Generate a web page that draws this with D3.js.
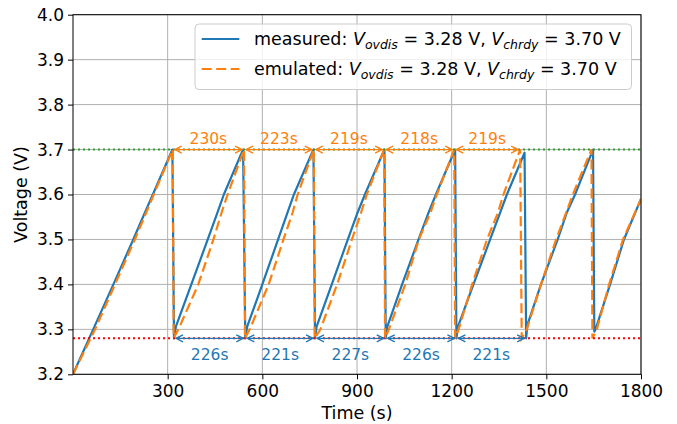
<!DOCTYPE html>
<html lang="en">
<head>
<meta charset="utf-8">
<script src="https://d3js.org/d3.v7.min.js"></script>
<style>
    body { margin: 0; background: #fff; }
    svg { display: block; font-family: "DejaVu Sans", sans-serif; }
    .tick text { font-size: 17px; fill: #000; font-family: "DejaVu Sans", sans-serif; }
    .grid line { stroke: #b0b0b0; stroke-width: 1; }
    text { white-space: pre; }
</style>
</head>
<body>
<svg id="chart" width="677" height="424"></svg>
<script>
// [time (s), voltage (V)]
const measured = [
    [0, 3.20], [64, 3.30], [128, 3.40], [191, 3.50], [228, 3.56], [253, 3.60], [315, 3.70],
    [320, 3.28], [326, 3.306], [375, 3.40], [427, 3.50], [458, 3.56], [478, 3.60], [539, 3.70],
    [546, 3.28], [552, 3.306], [600, 3.40], [650, 3.50], [680, 3.56], [700, 3.60], [762, 3.70],
    [767, 3.28], [772, 3.306], [820, 3.40], [871, 3.50], [902, 3.56], [925, 3.60], [987, 3.70],
    [991, 3.28], [996, 3.306], [1043, 3.40], [1095, 3.50], [1127, 3.56], [1150, 3.60], [1211, 3.70],
    [1215, 3.28], [1220, 3.306], [1269, 3.40], [1322, 3.50], [1354, 3.56], [1375, 3.60], [1431, 3.693],
    [1436, 3.28], [1440, 3.31], [1483, 3.40], [1536, 3.50], [1565, 3.56], [1591, 3.60], [1648, 3.70],
    [1652, 3.295], [1656, 3.30], [1702, 3.40], [1746, 3.50], [1800, 3.59]
];
const emulated = [
    [0, 3.20], [70, 3.30], [133, 3.40], [196, 3.50], [232, 3.56], [256, 3.60], [316, 3.70],
    [319, 3.28], [334, 3.30], [397, 3.40], [445, 3.50], [471, 3.56], [490, 3.60], [542, 3.70],
    [545, 3.28], [560, 3.30], [620, 3.40], [667, 3.50], [696, 3.56], [712, 3.60], [763, 3.70],
    [766, 3.28], [784, 3.30], [837, 3.40], [884, 3.50], [913, 3.56], [931, 3.60], [986, 3.70],
    [989, 3.28], [1001, 3.30], [1053, 3.40], [1096, 3.50], [1133, 3.56], [1153, 3.60], [1208, 3.70],
    [1211, 3.28], [1222, 3.30], [1265, 3.40], [1312, 3.50], [1347, 3.56], [1364, 3.60], [1417, 3.70],
    [1422, 3.28], [1438, 3.30], [1483, 3.40], [1531, 3.50], [1563, 3.56], [1584, 3.60], [1643, 3.70],
    [1646, 3.28], [1660, 3.30], [1699, 3.40], [1743, 3.50], [1800, 3.59]
];

const vOvdis = 3.28;
const vChrdy = 3.70;

// charge intervals (emulated peaks) and discharge intervals (measured troughs)
const chargeMarks = [316, 542, 763, 986, 1208, 1417];
const chargeLabels = ["230s", "223s", "219s", "218s", "219s"];
const dischargeMarks = [320, 546, 767, 991, 1215, 1436];
const dischargeLabels = ["226s", "221s", "227s", "226s", "221s"];

const xTicks = [300, 600, 900, 1200, 1500, 1800];
const yTicks = [3.2, 3.3, 3.4, 3.5, 3.6, 3.7, 3.8, 3.9, 4.0];
const seriesNames = ["measured", "emulated"];

const blue = "#1f77b4", orange = "#ff7f0e";

const svg = d3.select("#chart");
const width = 677, height = 424;
const margin = {top: 14.7, right: 36, bottom: 49.7, left: 73};

const x = d3.scaleLinear().domain([0, 1800]).range([margin.left, width - margin.right]);
const y = d3.scaleLinear().domain([3.2, 4.0]).range([height - margin.bottom, margin.top]);

svg.append("defs").append("clipPath").attr("id", "clip")
    .append("rect")
    .attr("x", margin.left).attr("y", margin.top)
    .attr("width", x.range()[1] - margin.left)
    .attr("height", y.range()[0] - margin.top);

// grid
svg.append("g").attr("class", "grid")
    .selectAll("line").data(xTicks).join("line")
    .attr("x1", d => x(d)).attr("x2", d => x(d))
    .attr("y1", margin.top).attr("y2", y.range()[0]);
svg.append("g").attr("class", "grid")
    .selectAll("line").data(yTicks).join("line")
    .attr("x1", margin.left).attr("x2", x.range()[1])
    .attr("y1", d => y(d)).attr("y2", d => y(d));

const line = d3.line().x(d => x(d[0])).y(d => y(d[1]));
const plot = svg.append("g").attr("clip-path", "url(#clip)");

plot.append("path").datum(measured)
    .attr("d", line).attr("fill", "none")
    .attr("stroke", blue).attr("stroke-width", 2.2)
    .attr("stroke-linejoin", "round");

plot.append("path").datum(emulated)
    .attr("d", line).attr("fill", "none")
    .attr("stroke", orange).attr("stroke-width", 2.2)
    .attr("stroke-dasharray", "10,4.5");

// threshold lines
plot.append("line")
    .attr("x1", x(0)).attr("x2", x(1800)).attr("y1", y(vChrdy)).attr("y2", y(vChrdy))
    .attr("stroke", "#2ca02c").attr("stroke-width", 2).attr("stroke-dasharray", "2,3");
plot.append("line")
    .attr("x1", x(0)).attr("x2", x(1800)).attr("y1", y(vOvdis)).attr("y2", y(vOvdis))
    .attr("stroke", "#ff0000").attr("stroke-width", 2).attr("stroke-dasharray", "2,3");

function addArrow(g, x1, x2, yy, color) {
    const s = 2;
    const a = x1 + s, b = x2 - s;
    g.append("line")
        .attr("x1", a).attr("x2", b).attr("y1", yy).attr("y2", yy)
        .attr("stroke", color).attr("stroke-width", 1.3);
    [[a, 1], [b, -1]].forEach(([px, dir]) => {
        g.append("path")
            .attr("d", `M${px + dir * 7},${yy - 3.5}L${px},${yy}L${px + dir * 7},${yy + 3.5}`)
            .attr("fill", "none").attr("stroke", color).attr("stroke-width", 1.3);
    });
}

const ann = svg.append("g");
chargeLabels.forEach((lbl, i) => {
    const x1 = x(chargeMarks[i]), x2 = x(chargeMarks[i + 1]);
    addArrow(ann, x1, x2, y(vChrdy), orange);
    ann.append("text")
        .attr("x", (x1 + x2) / 2).attr("y", y(vChrdy) - 5.5)
        .attr("text-anchor", "middle")
        .attr("fill", orange).style("font-size", "15.5px")
        .text(lbl);
});
dischargeLabels.forEach((lbl, i) => {
    const x1 = x(dischargeMarks[i]), x2 = x(dischargeMarks[i + 1]);
    addArrow(ann, x1, x2, y(vOvdis), blue);
    ann.append("text")
        .attr("x", (x1 + x2) / 2).attr("y", y(vOvdis) + 22)
        .attr("text-anchor", "middle")
        .attr("fill", blue).style("font-size", "15.5px")
        .text(lbl);
});

// axes
svg.append("g")
    .attr("transform", `translate(0,${y.range()[0]})`)
    .call(d3.axisBottom(x).tickValues(xTicks).tickFormat(d3.format("d")).tickSize(5).tickPadding(6).tickSizeOuter(0))
    .call(g => g.select(".domain").remove());
svg.append("g")
    .attr("transform", `translate(${margin.left},0)`)
    .call(d3.axisLeft(y).tickValues(yTicks).tickFormat(d3.format(".1f")).tickSize(5).tickPadding(4).tickSizeOuter(0))
    .call(g => g.select(".domain").remove());

svg.append("rect")
    .attr("x", margin.left).attr("y", margin.top)
    .attr("width", x.range()[1] - margin.left)
    .attr("height", y.range()[0] - margin.top)
    .attr("fill", "none").attr("stroke", "#000").attr("stroke-width", 1);

svg.append("text")
    .attr("x", (x.range()[0] + x.range()[1]) / 2).attr("y", 419)
    .attr("text-anchor", "middle").style("font-size", "17.5px")
    .text("Time (s)");
svg.append("text")
    .attr("transform", `translate(27,${(y.range()[0] + y.range()[1]) / 2}) rotate(-90)`)
    .attr("text-anchor", "middle").style("font-size", "17.5px")
    .text("Voltage (V)");

// legend
const legend = svg.append("g");
legend.append("rect")
    .attr("x", 195).attr("y", 24).attr("width", 436.5).attr("height", 65.5)
    .attr("rx", 4).attr("fill", "#fff").attr("fill-opacity", 0.8)
    .attr("stroke", "#cccccc").attr("stroke-width", 1);

seriesNames.forEach((name, i) => {
    const ly = 39 + i * 30;
    legend.append("line")
        .attr("x1", 201.7).attr("x2", 239.3).attr("y1", ly).attr("y2", ly)
        .attr("stroke", i === 0 ? blue : orange).attr("stroke-width", 2.2)
        .attr("stroke-dasharray", i === 0 ? null : "10,4.5");
    const t = legend.append("text")
        .attr("x", 254).attr("y", ly + 6)
        .style("font-size", "17.5px");
    t.append("tspan").text(name + ": ");
    t.append("tspan").attr("font-style", "italic").text("V");
    t.append("tspan").attr("font-style", "italic").style("font-size", "12.5px").attr("dy", 3.5).text("ovdis");
    t.append("tspan").attr("dy", -3.5).text(" = " + vOvdis.toFixed(2) + " V, ");
    t.append("tspan").attr("font-style", "italic").text("V");
    t.append("tspan").attr("font-style", "italic").style("font-size", "12.5px").attr("dy", 3.5).text("chrdy");
    t.append("tspan").attr("dy", -3.5).text(" = " + vChrdy.toFixed(2) + " V");
});
</script>
</body>
</html>
